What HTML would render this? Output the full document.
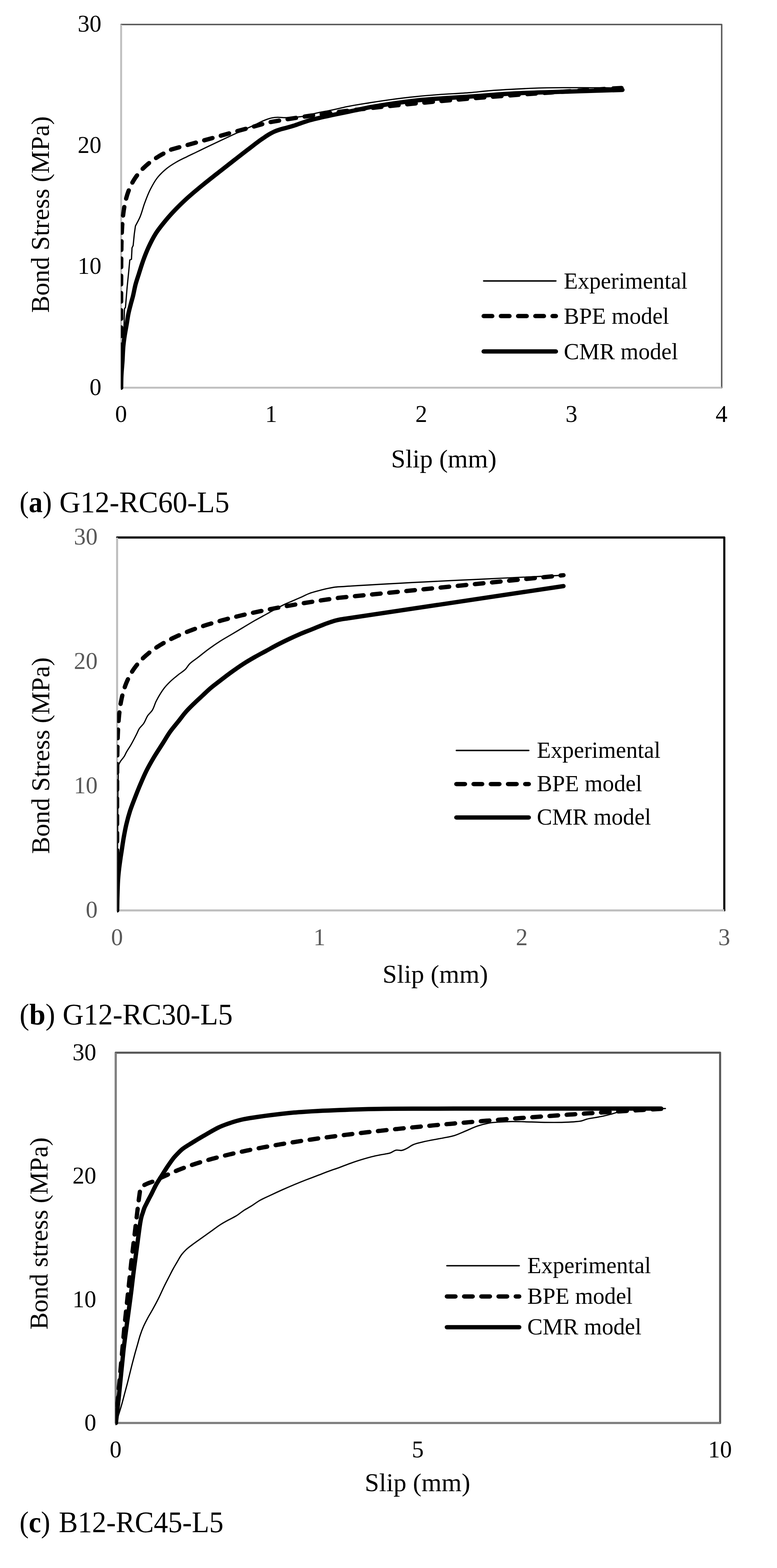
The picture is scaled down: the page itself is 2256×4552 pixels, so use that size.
<!DOCTYPE html>
<html lang="en"><head><meta charset="utf-8"><title>Bond stress-slip curves</title>
<style>
html,body{margin:0;padding:0;background:#fff;}
body{width:2256px;height:4552px;overflow:hidden;}
svg{display:block;}
text{font-family:"Liberation Serif",serif;}
.tk{font-size:69px;}
.ti{font-size:75px;}
.lg{font-size:66.67px;}
.cap{font-size:87px;}
.c{fill:none;stroke:#000;stroke-linecap:round;stroke-linejoin:round;}
</style></head><body>
<svg width="2256" height="4552" viewBox="0 0 2256 4552" role="img" aria-label="Bond stress versus slip: experimental curve compared with BPE and CMR models for three specimens">
<rect width="2256" height="4552" fill="#fff"/>
<g id="chart1">
<path d="M351.7 71.2 H2095.4 V1125.5" fill="none" stroke="#595959" stroke-width="4.2" stroke-linejoin="round" stroke-linecap="round"/>
<path d="M351.7 71.6 V1125.5 H2095.4" fill="none" stroke="#bfbfbf" stroke-width="5.5" stroke-linejoin="miter"/>
<svg x="351" y="60" width="1759" height="1080" viewBox="351 60 1759 1080" overflow="hidden">
<path class="c" d="M351.7 1125.5 L354 1060 L357 1000 L359.4 970 L361.4 896.3 L364.3 892.4 L369.1 834.2 L374 785.6 L376.9 754.6 L381.7 752.6 L383.3 719.5 L386.6 712.9 L389.9 679.6 L393.2 656.3 C397.7 647.4 402.7 638.8 406.6 629.7 C412.1 616.8 415 602.9 419.9 589.8 C424.9 576.3 429.9 562.7 436.5 549.8 C442.4 538.3 448.5 526.7 456.5 516.5 C464.2 506.6 473.4 497.8 483.1 489.9 C492.4 482.3 502.6 476 513 470 C522.7 464.4 532.9 459.8 543 454.8 C551.8 450.4 560.7 446.3 569.6 442 C576.4 438.7 583.1 435.5 589.9 432.2 C606.5 424.2 623.1 416.3 639.8 408.4 C656.4 400.6 673.1 392.8 689.8 385.1 C706.4 377.5 723.1 370.1 739.7 362.5 C750.8 357.4 761.5 351.2 773 347.2 C778.5 345.3 783.9 343.3 789.6 342.2 C795.1 341.1 800.6 340.6 806.2 340.5 C811.8 340.4 817.3 341.3 822.9 341.5 C839.5 342 856.3 341.1 872.8 338.8 C889.7 336.5 906 331 922.7 327.5 C936.8 324.5 950.9 322.2 965 319.2 C978.9 316.3 992.7 312.7 1006.6 309.8 C1028.6 305.3 1050.9 302 1073.1 298.4 C1095.3 294.9 1117.5 291.5 1139.7 288.5 C1161.8 285.5 1184 282.9 1206.2 280.6 C1228.4 278.3 1250.6 276.4 1272.8 274.7 C1303.5 272.3 1334.3 271.5 1365 268.9 C1382.8 267.4 1400.5 265.1 1418.3 263.6 C1444.4 261.4 1470.5 260 1496.6 258.6 C1522.7 257.2 1548.8 255.9 1574.9 255.2 C1601 254.5 1627.1 254.6 1653.2 254.5 C1679.3 254.4 1705.4 254.3 1731.5 254.7 C1751 255 1770.6 254.1 1790 256 C1795.7 256.5 1801.3 257.3 1807 258" stroke-width="3.6"/>
<path class="c" d="M351.7 1125.5 L351.7 1123.3 L351.7 1121.1 L351.7 1119 L351.7 1116.8 L351.7 1114.6 L351.7 1112.4 L351.7 1110.3 L351.7 1108.1 L351.7 1105.9 L351.7 1103.7 L351.7 1101.6 L351.7 1099.4 L351.7 1097.2 L351.7 1095 L351.7 1092.9 L351.7 1090.7 L351.7 1088.5 L351.7 1086.3 L351.7 1084.2 L351.7 1082 L351.7 1079.8 L351.7 1077.6 L351.7 1075.5 L351.7 1073.3 L351.7 1071.1 L351.7 1068.9 L351.7 1066.8 L351.7 1064.6 L351.7 1062.4 L351.7 1060.2 L351.7 1058.1 L351.7 1055.9 L351.7 1053.7 L351.7 1051.5 L351.7 1049.4 L351.7 1047.2 L351.7 1045 L351.7 1042.8 L351.7 1040.7 L351.7 1038.5 L351.7 1036.3 L351.7 1034.1 L351.7 1032 L351.7 1029.8 L351.7 1027.6 L351.7 1025.4 L351.7 1023.3 L351.7 1021.1 L351.7 1018.9 L351.7 1016.7 L351.7 1014.6 L351.7 1012.4 L351.7 1010.2 L351.7 1008 L351.7 1005.9 L351.7 1003.7 L351.7 1001.5 L351.7 999.3 L351.7 997.2 L351.7 995 L351.7 992.8 L351.7 990.6 L351.7 988.5 L351.7 986.3 L351.7 984.1 L351.7 981.9 L351.7 979.8 L351.7 977.6 L351.7 975.4 L351.7 973.2 L351.7 971 L351.7 968.9 L351.7 966.7 L351.7 964.5 L351.7 962.3 L351.7 960.2 L351.7 958 L351.7 955.8 L351.7 953.6 L351.7 951.5 L351.7 949.3 L351.7 947.1 L351.7 944.9 L351.7 942.8 L351.7 940.6 L351.7 938.4 L351.7 936.2 L351.7 934.1 L351.7 931.9 L351.7 929.7 L351.7 927.5 L351.7 925.4 L351.7 923.2 L351.7 921 L351.7 918.8 L351.7 916.7 L351.7 914.5 L351.7 912.3 L351.7 910.1 L351.7 908 L351.7 905.8 L351.7 903.6 L351.7 901.4 L351.7 899.3 L351.7 897.1 L351.7 894.9 L351.7 892.7 L351.7 890.6 L351.7 888.4 L351.7 886.2 L351.7 884 L351.7 881.9 L351.7 879.7 L351.7 877.5 L351.7 875.3 L351.7 873.2 L351.7 871 L351.7 868.8 L351.7 866.6 L351.7 864.5 L351.7 862.3 L351.7 860.1 L351.7 857.9 L351.7 855.8 L351.7 853.6 L351.7 851.4 L351.7 849.2 L351.7 847.1 L351.7 844.9 L351.7 842.7 L351.7 840.5 L351.7 838.4 L351.7 836.2 L351.7 834 L351.7 831.8 L351.7 829.6 L351.7 827.5 L351.7 825.3 L351.7 823.1 L351.7 820.9 L351.7 818.8 L351.7 816.6 L351.7 814.4 L351.8 812.2 L351.8 810.1 L351.8 807.9 L351.8 805.7 L351.8 803.5 L351.8 801.4 L351.8 799.2 L351.8 797 L351.8 794.8 L351.8 792.7 L351.8 790.5 L351.8 788.3 L351.8 786.1 L351.8 784 L351.8 781.8 L351.8 779.6 L351.9 777.4 L351.9 775.3 L351.9 773.1 L351.9 770.9 L351.9 768.7 L351.9 766.6 L351.9 764.4 L351.9 762.2 L351.9 760 L352 757.9 L352 755.7 L352 753.5 L352 751.3 L352 749.2 L352.1 747 L352.1 744.8 L352.1 742.6 L352.1 740.5 L352.1 738.3 L352.2 736.1 L352.2 733.9 L352.2 731.8 L352.3 729.6 L352.3 727.4 L352.3 725.2 L352.4 723.1 L352.4 720.9 L352.4 718.7 L352.5 716.5 L352.5 714.4 L352.5 712.2 L352.6 710 L352.6 707.8 L352.7 705.7 L352.7 703.5 L352.8 701.3 L352.9 699.1 L352.9 697 L353 694.8 L353 692.6 L353.1 690.4 L353.2 688.3 L353.3 686.1 L353.3 683.9 L353.4 681.7 L353.5 679.5 L353.6 677.4 L353.7 675.2 L353.8 673 L353.9 670.8 L354 668.7 L354.1 666.5 L354.2 664.3 L354.4 662.1 L354.5 660 L354.6 657.8 L354.8 655.6 L354.9 653.4 L355.1 651.3 L355.2 649.1 L355.4 646.9 L355.6 644.7 L355.7 642.6 L355.9 640.4 L356.1 638.2 L356.3 636 L356.5 633.9 L356.7 631.7 L357 629.5 L357.2 627.3 L357.4 625.2 L357.7 623 L358 620.8 L358.2 618.6 L358.5 616.5 L358.8 614.3 L359.1 612.1 L359.4 609.9 L359.8 607.8 L360.1 605.6 L360.5 603.4 L360.9 601.2 L361.2 599.1 L361.6 596.9 L362.1 594.7 L362.5 592.5 L362.9 590.4 L363.4 588.2 L363.9 586 L364.4 583.8 L364.9 581.7 L365.5 579.5 L366 577.3 L366.6 575.1 L367.2 573 L367.8 570.8 L368.5 568.6 L369.1 566.4 L369.8 564.3 L370.5 562.1 L371.3 559.9 L372 557.7 L372.8 555.6 L373.6 553.4 L374.5 551.2 L375.4 549 L376.3 546.9 L377.2 544.7 L378.2 542.5 L379.2 540.3 L380.2 538.1 L381.3 536 L382.4 533.8 L383.6 531.6 L384.7 529.4 L386 527.3 L387.2 525.1 L388.6 522.9 L389.9 520.7 L391.3 518.6 L392.7 516.4 L394.2 514.2 L395.8 512 L397.4 509.9 L399 507.7 L400.7 505.5 L402.4 503.3 L404.2 501.2 L406.1 499 L408 496.8 L410 494.6 L412 492.5 L414.1 490.3 L416.3 488.1 L418.6 485.9 L420.9 483.8 L423.2 481.6 L425.7 479.4 L428.2 477.2 L430.8 475.1 L433.5 472.9 L436.3 470.7 L439.1 468.5 L442.1 466.4 L445.1 464.2 L448.2 462 L451.4 459.8 L454.7 457.7 L458.2 455.5 L461.7 453.3 L465.3 451.1 L469 449 L472.8 446.8 L476.8 444.6 L480.8 442.4 L485 440.3 L489.3 438.1 L493.7 435.9 L498.2 433.7 L779.9 355.4 L792.2 353.2 L804.8 351.1 L817.6 348.9 L830.9 346.7 L844.4 344.5 L858.3 342.4 L872.6 340.2 L887.2 338 L902.1 335.8 L917.5 333.7 L933.2 331.5 L949.4 329.3 L965.9 327.1 L982.8 325 L1000.2 322.8 L1018 320.6 L1036.2 318.4 L1054.9 316.3 L1074 314.1 L1093.6 311.9 L1113.7 309.7 L1134.3 307.6 L1155.3 305.4 L1176.9 303.2 L1199 301 L1221.6 298.9 L1244.8 296.7 L1268.5 294.5 L1292.8 292.3 L1317.7 290.2 L1343.1 288 L1369.2 285.8 L1395.8 283.6 L1423.1 281.5 L1451.1 279.3 L1479.7 277.1 L1508.9 274.9 L1538.9 272.8 L1569.5 270.6 L1600.8 268.4 L1632.9 266.2 L1665.7 264.1 L1699.3 261.9 L1733.6 259.7 L1768.7 257.5 L1804.6 255.4" stroke-width="12.5" stroke-dasharray="25 25"/>
<path class="c" d="M351.7 1125.5 C352 1113.7 351.9 1101.8 352.5 1090 C353.1 1077.1 354.5 1064.3 355.4 1051.4 C356.6 1034.3 356.7 1017.1 358.6 1000 C359.3 993.7 360.1 987.3 361 981 C362.9 967.3 365.7 953.7 368 940 C369.7 930.2 370.9 920.3 372.9 910.5 C375 900.2 377.8 890.1 380.5 880 C382.1 874 383.9 868 385.5 862 C388.7 849.6 390.5 836.9 393.9 824.5 C396.6 814.7 400 805 403.1 795.3 C407.2 782.3 411.1 769.3 415.7 756.5 C420.4 743.4 425.5 730.4 431.3 717.7 C437.4 704.4 443.9 691.2 451.7 678.8 C460 665.6 469.9 653.5 479.8 641.5 C490.3 628.7 501.5 616.5 513 604.7 C521.7 595.7 530.8 587 540 578.5 C556 563.7 573 549.9 589.9 536 C606.4 522.5 623.2 509.5 640 496.3 C653.5 485.7 667.1 475.1 680.7 464.5 C694.2 454 707.7 443.4 721.4 433 C734.9 422.7 748.2 412.1 762.2 402.5 C768.9 398 775.5 393.3 782.5 389.3 C787.8 386.3 793.2 383.4 798.8 381 C803.4 379.1 808.2 377.5 813 376 C819.7 373.9 826.6 372.4 833.4 370.5 C839.5 368.8 845.6 367.2 851.7 365.3 C859.2 362.9 866.6 360 874.1 357.5 C882.7 354.6 891.3 351.5 900 349 C910.8 345.9 921.8 343.5 932.7 341 C943.4 338.5 954.2 336.3 965 334 C986.6 329.4 1008.3 325.1 1030 320.5 C1044.4 317.5 1058.7 314 1073.1 311.3 C1083.7 309.3 1094.4 307.7 1105 306 C1138.6 300.6 1172.4 295.8 1206.2 292 C1258.9 286 1312.1 284.1 1365 280.3 C1408.9 277.2 1452.7 273.4 1496.6 271.1 C1548.8 268.3 1601 267.5 1653.2 265.8 C1704.6 264.1 1755.9 262.6 1807.3 261" stroke-width="12.5"/>
</svg>
<text class="tk" x="294.5" y="1146.5" text-anchor="end" fill="#000">0</text>
<text class="tk" x="294.5" y="795.1" text-anchor="end" fill="#000">10</text>
<text class="tk" x="294.5" y="443.6" text-anchor="end" fill="#000">20</text>
<text class="tk" x="294.5" y="92.2" text-anchor="end" fill="#000">30</text>
<text class="tk" x="351.4" y="1225" text-anchor="middle" fill="#000">0</text>
<text class="tk" x="787.3" y="1225" text-anchor="middle" fill="#000">1</text>
<text class="tk" x="1223.2" y="1225" text-anchor="middle" fill="#000">2</text>
<text class="tk" x="1659.2" y="1225" text-anchor="middle" fill="#000">3</text>
<text class="tk" x="2095.1" y="1225" text-anchor="middle" fill="#000">4</text>
<text class="ti" x="1135.5" y="1357">Slip (mm)</text>
<text class="ti" transform="translate(142 908.3) rotate(-90)">Bond Stress (MPa)</text>
<path class="c" d="M1404.3 815.6 H1614" stroke-width="4.2"/>
<text class="lg" x="1637" y="837.7">Experimental</text>
<path class="c" d="M1404.3 917.6 H1614" stroke-width="12.5" stroke-dasharray="25 25"/>
<text class="lg" x="1637" y="940">BPE model</text>
<path class="c" d="M1404.3 1020.3 H1614" stroke-width="12.5"/>
<text class="lg" x="1637" y="1042.5">CMR model</text>
<text class="cap" x="56.7" y="1487.2" textLength="93.9" lengthAdjust="spacingAndGlyphs">(<tspan font-weight="bold">a</tspan>)</text>
<text class="cap" x="172.4" y="1487.2" textLength="493.6" lengthAdjust="spacingAndGlyphs">G12-RC60-L5</text>
</g>
<g id="chart2">
<path d="M340 1560.4 H2103 V2643" fill="none" stroke="#000" stroke-width="6.1" stroke-linejoin="round" stroke-linecap="round"/>
<path d="M340 1560.8 V2643 H2103" fill="none" stroke="#bfbfbf" stroke-width="5.9" stroke-linejoin="miter"/>
<svg x="340" y="1550" width="1780" height="1110" viewBox="340 1550 1780 1110" overflow="hidden">
<path class="c" d="M340 2643 C340.3 2595.3 340.7 2547.7 341 2500 C341.3 2450 341.5 2400 342 2350 C342.3 2318.3 342.1 2286.6 343.3 2255 C343.8 2243.1 340.5 2230.4 345 2219.4 C345.9 2217.1 347.1 2214.9 348.3 2212.7 C351.9 2206.1 357.9 2201 361.6 2194.4 C363.4 2191.2 364.8 2187.7 366.6 2184.4 C370.6 2176.9 375.7 2170.1 379.9 2162.8 C385.9 2152.5 391.2 2141.8 396.6 2131.2 C399.4 2125.7 401.4 2119.7 404.9 2114.5 C408.2 2109.6 413 2106 416.5 2101.2 C422 2093.6 424.3 2083.9 429.8 2076.3 C433.3 2071.5 438.1 2067.8 441.5 2062.9 C447 2054.9 448.8 2045 453.1 2036.3 C456.2 2030.1 459.5 2024 463.1 2018 C467.2 2011.2 471.5 2004.4 476.4 1998.1 C481.5 1991.6 487.2 1985.6 493.1 1979.8 C500.4 1972.6 508.5 1966.3 516.4 1959.8 C524 1953.5 533.1 1948.8 539.7 1941.5 C543.4 1937.4 545.9 1932.3 549.6 1928.2 C556.3 1920.8 565.4 1915.9 573.3 1909.7 C584.4 1901.1 595.2 1892.1 606.6 1883.8 C617.4 1875.9 628.5 1868.2 639.8 1861 C650.7 1854.1 662 1847.9 673.1 1841.3 C684.2 1834.7 695.3 1828 706.4 1821.4 C717.5 1814.8 728.5 1807.9 739.7 1801.5 C750.7 1795.2 761.9 1789.4 772.9 1783.3 C784 1777.2 795 1770.7 806.2 1764.8 C813.9 1760.7 821.6 1756.6 829.5 1753 C836.1 1750 842.8 1747.4 849.5 1744.5 C857.3 1741.1 865 1737.7 872.8 1734.3 C881.7 1730.4 890.3 1725.7 899.4 1722.4 C907 1719.6 914.9 1717.6 922.7 1715.5 C930.4 1713.4 938.2 1711.4 946 1709.6 C955 1707.6 964.1 1705.6 973.3 1704.4 C982.1 1703.3 991.1 1703.2 1000 1702.6 C1211.8 1688.5 1424 1680.8 1636 1669.9" stroke-width="3.6"/>
<path class="c" d="M340 2643 L340 2640.6 L340 2638.1 L340 2635.7 L340 2633.3 L340 2630.8 L340 2628.4 L340 2626 L340 2623.5 L340 2621.1 L340 2618.7 L340 2616.2 L340 2613.8 L340 2611.4 L340 2608.9 L340 2606.5 L340 2604.1 L340 2601.6 L340 2599.2 L340 2596.8 L340 2594.3 L340 2591.9 L340 2589.5 L340 2587 L340 2584.6 L340 2582.2 L340 2579.7 L340 2577.3 L340 2574.9 L340 2572.4 L340 2570 L340 2567.6 L340 2565.1 L340 2562.7 L340 2560.3 L340 2557.8 L340 2555.4 L340 2553 L340 2550.5 L340 2548.1 L340 2545.7 L340 2543.2 L340 2540.8 L340 2538.4 L340 2535.9 L340 2533.5 L340 2531.1 L340 2528.6 L340 2526.2 L340 2523.8 L340 2521.3 L340 2518.9 L340 2516.5 L340 2514 L340 2511.6 L340 2509.2 L340 2506.7 L340 2504.3 L340 2501.9 L340 2499.4 L340 2497 L340 2494.6 L340 2492.1 L340 2489.7 L340 2487.3 L340 2484.8 L340 2482.4 L340 2480 L340 2477.5 L340 2475.1 L340 2472.7 L340 2470.2 L340 2467.8 L340 2465.4 L340 2462.9 L340 2460.5 L340 2458.1 L340 2455.6 L340 2453.2 L340 2450.8 L340 2448.3 L340 2445.9 L340 2443.5 L340 2441 L340 2438.6 L340 2436.2 L340 2433.7 L340 2431.3 L340 2428.9 L340 2426.5 L340 2424 L340 2421.6 L340 2419.2 L340 2416.7 L340 2414.3 L340 2411.9 L340 2409.4 L340 2407 L340 2404.6 L340 2402.1 L340 2399.7 L340 2397.3 L340 2394.8 L340 2392.4 L340 2390 L340 2387.5 L340 2385.1 L340 2382.7 L340 2380.2 L340 2377.8 L340 2375.4 L340 2372.9 L340 2370.5 L340 2368.1 L340 2365.6 L340 2363.2 L340 2360.8 L340 2358.3 L340 2355.9 L340 2353.5 L340 2351 L340 2348.6 L340 2346.2 L340 2343.7 L340 2341.3 L340 2338.9 L340 2336.4 L340 2334 L340 2331.6 L340 2329.1 L340 2326.7 L340 2324.3 L340 2321.8 L340 2319.4 L340 2317 L340 2314.5 L340 2312.1 L340 2309.7 L340 2307.2 L340 2304.8 L340 2302.4 L340 2299.9 L340 2297.5 L340 2295.1 L340 2292.6 L340.1 2290.2 L340.1 2287.8 L340.1 2285.3 L340.1 2282.9 L340.1 2280.5 L340.1 2278 L340.1 2275.6 L340.1 2273.2 L340.1 2270.7 L340.1 2268.3 L340.1 2265.9 L340.1 2263.4 L340.1 2261 L340.1 2258.6 L340.1 2256.1 L340.1 2253.7 L340.1 2251.3 L340.2 2248.8 L340.2 2246.4 L340.2 2244 L340.2 2241.5 L340.2 2239.1 L340.2 2236.7 L340.2 2234.2 L340.2 2231.8 L340.2 2229.4 L340.3 2226.9 L340.3 2224.5 L340.3 2222.1 L340.3 2219.6 L340.3 2217.2 L340.4 2214.8 L340.4 2212.3 L340.4 2209.9 L340.4 2207.5 L340.4 2205 L340.5 2202.6 L340.5 2200.2 L340.5 2197.7 L340.5 2195.3 L340.6 2192.9 L340.6 2190.4 L340.6 2188 L340.7 2185.6 L340.7 2183.1 L340.8 2180.7 L340.8 2178.3 L340.8 2175.8 L340.9 2173.4 L340.9 2171 L341 2168.5 L341 2166.1 L341.1 2163.7 L341.1 2161.2 L341.2 2158.8 L341.3 2156.4 L341.3 2153.9 L341.4 2151.5 L341.5 2149.1 L341.5 2146.6 L341.6 2144.2 L341.7 2141.8 L341.8 2139.3 L341.9 2136.9 L342 2134.5 L342.1 2132 L342.2 2129.6 L342.3 2127.2 L342.4 2124.7 L342.5 2122.3 L342.6 2119.9 L342.7 2117.4 L342.9 2115 L343 2112.6 L343.1 2110.1 L343.3 2107.7 L343.4 2105.3 L343.6 2102.8 L343.8 2100.4 L343.9 2098 L344.1 2095.5 L344.3 2093.1 L344.5 2090.7 L344.7 2088.2 L344.9 2085.8 L345.1 2083.4 L345.3 2080.9 L345.6 2078.5 L345.8 2076.1 L346.1 2073.6 L346.3 2071.2 L346.6 2068.8 L346.9 2066.3 L347.2 2063.9 L347.5 2061.5 L347.8 2059 L348.2 2056.6 L348.5 2054.2 L348.9 2051.7 L349.2 2049.3 L349.6 2046.9 L350 2044.4 L350.4 2042 L350.9 2039.6 L351.3 2037.1 L351.8 2034.7 L352.3 2032.3 L352.8 2029.8 L353.3 2027.4 L353.8 2025 L354.4 2022.5 L354.9 2020.1 L355.5 2017.7 L356.1 2015.2 L356.8 2012.8 L357.4 2010.4 L358.1 2007.9 L358.8 2005.5 L359.6 2003.1 L360.3 2000.7 L361.1 1998.2 L361.9 1995.8 L362.8 1993.4 L363.6 1990.9 L364.5 1988.5 L365.4 1986.1 L366.4 1983.6 L367.4 1981.2 L368.4 1978.8 L369.5 1976.3 L370.6 1973.9 L371.7 1971.5 L372.9 1969 L374.1 1966.6 L375.3 1964.2 L376.6 1961.7 L377.9 1959.3 L379.3 1956.9 L380.7 1954.4 L382.2 1952 L383.7 1949.6 L385.2 1947.1 L386.9 1944.7 L388.5 1942.3 L390.2 1939.8 L392 1937.4 L393.8 1935 L395.7 1932.5 L397.6 1930.1 L399.6 1927.7 L401.7 1925.2 L403.8 1922.8 L406 1920.4 L408.2 1917.9 L410.6 1915.5 L413 1913.1 L415.4 1910.6 L418 1908.2 L420.6 1905.8 L423.3 1903.3 L426.1 1900.9 L429 1898.5 L431.9 1896 L434.9 1893.6 L438.1 1891.2 L441.3 1888.7 L444.6 1886.3 L448 1883.9 L451.5 1881.4 L455.1 1879 L458.9 1876.6 L462.7 1874.1 L466.6 1871.7 L470.7 1869.3 L474.8 1866.8 L479.1 1864.4 L483.5 1862 L488.1 1859.5 L492.7 1857.1 L497.5 1854.7 L502.5 1852.2 L507.5 1849.8 L512.7 1847.4 L518.1 1844.9 L523.6 1842.5 L529.3 1840.1 L535.1 1837.6 L541.1 1835.2 L547.2 1832.8 L553.5 1830.3 L560 1827.9 L566.6 1825.5 L573.5 1823 L580.5 1820.6 L587.7 1818.2 L595.1 1815.7 L602.7 1813.3 L610.5 1810.9 L618.5 1808.4 L626.8 1806 L635.2 1803.6 L643.9 1801.1 L652.8 1798.7 L661.9 1796.3 L671.3 1793.8 L680.9 1791.4 L690.8 1789 L700.9 1786.5 L711.3 1784.1 L721.9 1781.7 L732.8 1779.2 L744.1 1776.8 L755.5 1774.4 L767.3 1771.9 L779.4 1769.5 L791.8 1767.1 L804.5 1764.6 L817.6 1762.2 L830.9 1759.8 L844.6 1757.3 L858.6 1754.9 L873 1752.5 L887.8 1750 L902.9 1747.6 L918.4 1745.2 L934.2 1742.7 L950.5 1740.3 L967.1 1737.9 L984.2 1735.4 L1636 1669.9" stroke-width="12.5" stroke-dasharray="25 25"/>
<path class="c" d="M340 2643 C340.3 2628.7 340.5 2614.3 341 2600 C341.6 2582.7 341.8 2565.3 343.2 2548 C343.9 2538.6 344.9 2529.3 346 2520 C347.2 2510.2 348.6 2500.5 350 2490.8 C351 2483.7 352.2 2476.7 353.3 2469.6 C355.2 2457.1 356.9 2444.6 359.1 2432.2 C361.4 2419.1 363.8 2406 366.9 2393 C370 2379.9 373.5 2367 377.6 2354.2 C381.9 2341 387.1 2328.2 392.1 2315.3 C397.1 2302.3 402.2 2289.3 407.7 2276.5 C413.2 2263.5 418.8 2250.4 425.1 2237.7 C431.7 2224.5 439 2211.8 446.5 2199.1 C454.5 2185.6 463.3 2172.6 471.7 2159.4 C479.3 2147.5 486.2 2135.2 494.4 2123.7 C501.7 2113.5 510.1 2104 517.9 2094.2 C525.7 2084.4 533 2074.1 541.4 2064.7 C548.8 2056.4 556.9 2048.7 564.9 2040.9 C572.6 2033.4 580.5 2026.3 588.4 2019 C596.2 2011.7 603.8 2004.2 611.9 1997.3 C620.9 1989.6 630.4 1982.7 639.8 1975.5 C650.8 1967 661.8 1958.5 673.1 1950.4 C684 1942.5 695 1934.7 706.4 1927.4 C717.3 1920.4 728.5 1913.9 739.7 1907.5 C750.6 1901.3 761.8 1895.4 772.9 1889.4 C784 1883.4 795 1877.2 806.2 1871.4 C817.2 1865.7 828.3 1860.3 839.5 1855 C850.5 1849.8 861.6 1844.8 872.8 1840 C883.8 1835.3 895 1831.2 906.1 1826.7 C917.2 1822.3 928.1 1817.5 939.3 1813.3 C946.2 1810.7 953 1808.2 960 1805.9 C965 1804.3 969.9 1802.5 975 1801.2 C979.9 1799.9 984.9 1798.9 989.9 1798 C996.6 1796.8 1003.3 1796 1010 1795 C1218.7 1763.9 1427.3 1732.7 1636 1701.5" stroke-width="12.5"/>
</svg>
<text class="tk" x="283.5" y="2664" text-anchor="end" fill="#595959">0</text>
<text class="tk" x="283.5" y="2303.1" text-anchor="end" fill="#595959">10</text>
<text class="tk" x="283.5" y="1942.3" text-anchor="end" fill="#595959">20</text>
<text class="tk" x="283.5" y="1581.4" text-anchor="end" fill="#595959">30</text>
<text class="tk" x="339.7" y="2743.6" text-anchor="middle" fill="#595959">0</text>
<text class="tk" x="927.4" y="2743.6" text-anchor="middle" fill="#595959">1</text>
<text class="tk" x="1515" y="2743.6" text-anchor="middle" fill="#595959">2</text>
<text class="tk" x="2102.7" y="2743.6" text-anchor="middle" fill="#595959">3</text>
<text class="ti" x="1110.7" y="2852.7">Slip (mm)</text>
<text class="ti" transform="translate(143.2 2479) rotate(-90)">Bond Stress (MPa)</text>
<path class="c" d="M1325 2178.7 H1535.3" stroke-width="4.2"/>
<text class="lg" x="1558.8" y="2199.7">Experimental</text>
<path class="c" d="M1325 2276.2 H1535.3" stroke-width="12.5" stroke-dasharray="25 25"/>
<text class="lg" x="1558.8" y="2297.2">BPE model</text>
<path class="c" d="M1325 2373.2 H1535.3" stroke-width="12.5"/>
<text class="lg" x="1558.8" y="2394.2">CMR model</text>
<text class="cap" x="56.7" y="2973.8" textLength="103.5" lengthAdjust="spacingAndGlyphs">(<tspan font-weight="bold">b</tspan>)</text>
<text class="cap" x="181.7" y="2973.8" textLength="493.9" lengthAdjust="spacingAndGlyphs">G12-RC30-L5</text>
</g>
<g id="chart3">
<rect x="336" y="3056" width="1754.8" height="1075" fill="none" stroke="#595959" stroke-width="6.0" stroke-linejoin="round"/>
<path d="M336 3056.4 V4131 H2090.8" fill="none" stroke="#8c8c8c" stroke-width="3.6" stroke-linejoin="miter"/>
<svg x="335" y="3040" width="1775" height="1110" viewBox="335 3040 1775 1110" overflow="hidden">
<path class="c" d="M336.5 4131 C339.9 4120.7 343.4 4110.4 346.6 4100 C349.2 4091.5 351.8 4083 354.2 4074.4 C356.9 4064.9 359.3 4055.4 361.8 4045.9 C364.3 4036.4 366.9 4026.9 369.4 4017.4 C372 4007.3 374.5 3997.1 377 3987 C379.5 3976.9 382 3966.7 384.6 3956.6 C387.1 3947.1 389.6 3937.6 392.2 3928.1 C394.7 3919.2 397.2 3910.3 399.8 3901.4 C402.3 3892.5 404.5 3883.5 407.5 3874.8 C410.3 3866.4 413.4 3858.2 417 3850.1 C420.4 3842.3 424.4 3834.8 428.4 3827.3 C433.2 3818.3 438.7 3809.6 443.6 3800.7 C449.5 3790 455.3 3779.3 460.7 3768.4 C466 3757.7 470.7 3746.7 475.9 3736 C480.8 3725.9 486 3716 491.1 3706 C494.9 3698.7 498.5 3691.2 502.5 3684 C506.1 3677.4 510 3671 513.8 3664.5 C518.4 3656.8 522.4 3648.6 527.9 3641.5 C531.5 3636.9 535.5 3632.6 539.7 3628.5 C545.8 3622.6 552.8 3617.7 559.6 3612.5 C568.3 3605.9 577.3 3599.8 586.2 3593.5 C595.1 3587.2 603.9 3580.8 612.8 3574.5 C621.7 3568.2 630.3 3561.4 639.5 3555.5 C648.1 3550 657.1 3545.2 666.1 3540.3 C672.7 3536.7 679.6 3533.6 686 3529.7 C694.2 3524.7 701.3 3518.2 709.4 3513 C715.9 3508.9 722.8 3505.4 729.3 3501.4 C737.5 3496.4 745 3490.3 753.3 3485.5 C764 3479.3 775.4 3474.6 786.6 3469.3 C797.6 3464.1 808.7 3459 819.8 3454 C830.8 3449.1 841.9 3444.3 853.1 3439.6 C864.1 3435 875.2 3430.5 886.4 3426.1 C897.5 3421.8 908.6 3417.7 919.7 3413.5 C930.8 3409.3 941.8 3404.9 952.9 3400.8 C964 3396.7 975.1 3393 986.2 3388.9 C997.3 3384.8 1008.3 3380.3 1019.5 3376.4 C1030.5 3372.5 1041.6 3368.8 1052.8 3365.5 C1063.8 3362.2 1074.9 3359.1 1086.1 3356.5 C1091.6 3355.2 1097.2 3354.1 1102.7 3353 C1108.2 3351.9 1113.8 3351.1 1119.3 3350 C1124 3349.1 1128.8 3348.4 1133.3 3346.9 C1139.1 3345 1143.9 3340.2 1149.9 3339 C1155.4 3337.9 1161.1 3340.6 1166.6 3339.6 C1171.3 3338.8 1175.6 3336.5 1179.9 3334.6 C1186.9 3331.4 1192.8 3326 1199.9 3323 C1206.3 3320.3 1213.1 3318.8 1219.8 3317 C1230.8 3314 1242 3311.9 1253.1 3309.7 C1264.2 3307.5 1275.3 3305.9 1286.4 3303.7 C1297.5 3301.5 1308.8 3299.7 1319.7 3296.4 C1331.1 3292.9 1341.9 3287.5 1352.9 3283 C1364 3278.4 1374.8 3272.9 1386.2 3269.1 C1397.1 3265.4 1408.2 3262.4 1419.5 3260.4 C1430.5 3258.4 1441.7 3257.9 1452.8 3257.1 C1463.9 3256.3 1475 3255.9 1486.1 3255.8 C1497.2 3255.7 1508.2 3256.1 1519.3 3256.4 C1536.2 3256.8 1553 3257.8 1569.9 3258.1 C1592.1 3258.5 1614.3 3258.9 1636.5 3258.1 C1647.6 3257.7 1658.7 3257.5 1669.8 3256.4 C1676.5 3255.7 1683.2 3255.5 1689.7 3253.8 C1694.3 3252.6 1698.5 3250.4 1703 3249.1 C1710.6 3246.9 1718.5 3246.2 1726.3 3244.8 C1735.2 3243.1 1744.1 3241.8 1752.9 3239.8 C1759.6 3238.3 1766.3 3236.6 1772.9 3234.8 C1778.5 3233.3 1784.1 3231.7 1789.6 3229.8 C1794.1 3228.3 1798.4 3226.2 1802.9 3224.8 C1811.7 3222.1 1820.9 3221.3 1830 3220 C1863.7 3215.2 1898 3218.8 1932 3218.2" stroke-width="3.7"/>
<path class="c" d="M336 4131 L361.4 3850 L380.8 3668 L402 3490 L406.5 3457 L408.5 3449.5 L412.5 3444.3 L420 3439.6 L432 3434.3 L447 3429 L465 3420 L490 3408.7 L491 3408.2 L492 3407.7 L493.1 3407.2 L494.1 3406.8 L495.1 3406.3 L496.2 3405.8 L497.2 3405.4 L498.3 3404.9 L499.3 3404.4 L500.4 3403.9 L501.5 3403.5 L502.6 3403 L503.7 3402.5 L504.7 3402 L505.9 3401.6 L507 3401.1 L508.1 3400.6 L509.2 3400.1 L510.3 3399.7 L511.5 3399.2 L512.6 3398.7 L513.7 3398.2 L514.9 3397.8 L516.1 3397.3 L517.2 3396.8 L518.4 3396.3 L519.6 3395.9 L520.8 3395.4 L522 3394.9 L523.2 3394.4 L524.4 3394 L525.6 3393.5 L526.8 3393 L528 3392.6 L529.3 3392.1 L530.5 3391.6 L531.8 3391.1 L533 3390.7 L534.3 3390.2 L535.6 3389.7 L536.8 3389.2 L538.1 3388.8 L539.4 3388.3 L540.7 3387.8 L542 3387.3 L543.3 3386.9 L544.7 3386.4 L546 3385.9 L547.3 3385.4 L548.7 3385 L550 3384.5 L551.4 3384 L552.8 3383.5 L554.2 3383.1 L555.5 3382.6 L556.9 3382.1 L558.3 3381.6 L559.8 3381.2 L561.2 3380.7 L562.6 3380.2 L564 3379.8 L565.5 3379.3 L566.9 3378.8 L568.4 3378.3 L569.9 3377.9 L571.3 3377.4 L572.8 3376.9 L574.3 3376.4 L575.8 3376 L577.3 3375.5 L578.8 3375 L580.4 3374.5 L581.9 3374.1 L583.4 3373.6 L585 3373.1 L586.6 3372.6 L588.1 3372.2 L589.7 3371.7 L591.3 3371.2 L592.9 3370.7 L594.5 3370.3 L596.1 3369.8 L597.7 3369.3 L599.4 3368.8 L601 3368.4 L602.7 3367.9 L604.3 3367.4 L606 3367 L607.7 3366.5 L609.4 3366 L611.1 3365.5 L612.8 3365.1 L614.5 3364.6 L616.2 3364.1 L618 3363.6 L619.7 3363.2 L621.5 3362.7 L623.2 3362.2 L625 3361.7 L626.8 3361.3 L628.6 3360.8 L630.4 3360.3 L632.2 3359.8 L634 3359.4 L635.9 3358.9 L637.7 3358.4 L639.6 3357.9 L641.4 3357.5 L643.3 3357 L645.2 3356.5 L647.1 3356 L649 3355.6 L650.9 3355.1 L652.9 3354.6 L654.8 3354.2 L656.8 3353.7 L658.7 3353.2 L660.7 3352.7 L662.7 3352.3 L664.7 3351.8 L666.7 3351.3 L668.7 3350.8 L670.7 3350.4 L672.8 3349.9 L674.8 3349.4 L676.9 3348.9 L678.9 3348.5 L681 3348 L683.1 3347.5 L685.2 3347 L687.3 3346.6 L689.5 3346.1 L691.6 3345.6 L693.8 3345.1 L695.9 3344.7 L698.1 3344.2 L700.3 3343.7 L702.5 3343.2 L704.7 3342.8 L706.9 3342.3 L709.2 3341.8 L711.4 3341.4 L713.7 3340.9 L715.9 3340.4 L718.2 3339.9 L720.5 3339.5 L722.8 3339 L725.1 3338.5 L727.5 3338 L729.8 3337.6 L732.2 3337.1 L734.6 3336.6 L736.9 3336.1 L739.3 3335.7 L741.8 3335.2 L744.2 3334.7 L746.6 3334.2 L749.1 3333.8 L751.5 3333.3 L754 3332.8 L756.5 3332.3 L759 3331.9 L761.5 3331.4 L764 3330.9 L766.6 3330.4 L769.1 3330 L771.7 3329.5 L774.3 3329 L776.9 3328.6 L779.5 3328.1 L782.1 3327.6 L784.8 3327.1 L787.4 3326.7 L790.1 3326.2 L792.8 3325.7 L795.5 3325.2 L798.2 3324.8 L800.9 3324.3 L803.6 3323.8 L806.4 3323.3 L809.2 3322.9 L811.9 3322.4 L814.7 3321.9 L817.6 3321.4 L820.4 3321 L823.2 3320.5 L826.1 3320 L829 3319.5 L831.8 3319.1 L834.7 3318.6 L837.7 3318.1 L840.6 3317.6 L843.5 3317.2 L846.5 3316.7 L849.5 3316.2 L852.5 3315.8 L855.5 3315.3 L858.5 3314.8 L861.6 3314.3 L864.6 3313.9 L867.7 3313.4 L870.8 3312.9 L873.9 3312.4 L877 3312 L880.2 3311.5 L883.3 3311 L886.5 3310.5 L889.7 3310.1 L892.9 3309.6 L896.1 3309.1 L899.4 3308.6 L902.6 3308.2 L905.9 3307.7 L909.2 3307.2 L912.5 3306.7 L915.8 3306.3 L919.1 3305.8 L922.5 3305.3 L925.9 3304.8 L929.3 3304.4 L932.7 3303.9 L936.1 3303.4 L939.6 3303 L943 3302.5 L946.5 3302 L950 3301.5 L953.5 3301.1 L957.1 3300.6 L960.6 3300.1 L964.2 3299.6 L967.8 3299.2 L971.4 3298.7 L975 3298.2 L978.7 3297.7 L982.3 3297.3 L986 3296.8 L989.7 3296.3 L993.4 3295.8 L997.2 3295.4 L1000.9 3294.9 L1004.7 3294.4 L1008.5 3293.9 L1012.3 3293.5 L1016.2 3293 L1020 3292.5 L1023.9 3292 L1027.8 3291.6 L1031.7 3291.1 L1035.7 3290.6 L1039.6 3290.2 L1043.6 3289.7 L1047.6 3289.2 L1051.6 3288.7 L1055.7 3288.3 L1059.7 3287.8 L1063.8 3287.3 L1067.9 3286.8 L1072 3286.4 L1076.2 3285.9 L1080.3 3285.4 L1084.5 3284.9 L1088.7 3284.5 L1092.9 3284 L1097.2 3283.5 L1101.4 3283 L1105.7 3282.6 L1110 3282.1 L1114.4 3281.6 L1118.7 3281.1 L1123.1 3280.7 L1127.5 3280.2 L1131.9 3279.7 L1136.4 3279.2 L1140.8 3278.8 L1145.3 3278.3 L1149.8 3277.8 L1154.4 3277.4 L1158.9 3276.9 L1163.5 3276.4 L1168.1 3275.9 L1172.7 3275.5 L1177.4 3275 L1182.1 3274.5 L1186.7 3274 L1191.5 3273.6 L1196.2 3273.1 L1201 3272.6 L1205.8 3272.1 L1210.6 3271.7 L1215.4 3271.2 L1220.3 3270.7 L1225.2 3270.2 L1230.1 3269.8 L1235 3269.3 L1240 3268.8 L1244.9 3268.3 L1249.9 3267.9 L1255 3267.4 L1260 3266.9 L1265.1 3266.4 L1270.2 3266 L1275.4 3265.5 L1280.5 3265 L1285.7 3264.6 L1290.9 3264.1 L1296.1 3263.6 L1301.4 3263.1 L1306.7 3262.7 L1312 3262.2 L1317.3 3261.7 L1322.7 3261.2 L1328.1 3260.8 L1333.5 3260.3 L1339 3259.8 L1344.4 3259.3 L1349.9 3258.9 L1355.5 3258.4 L1361 3257.9 L1366.6 3257.4 L1372.2 3257 L1377.8 3256.5 L1383.5 3256 L1389.2 3255.5 L1394.9 3255.1 L1400.6 3254.6 L1406.4 3254.1 L1412.2 3253.6 L1418 3253.2 L1423.9 3252.7 L1429.8 3252.2 L1435.7 3251.8 L1441.6 3251.3 L1447.6 3250.8 L1453.6 3250.3 L1459.7 3249.9 L1465.7 3249.4 L1471.8 3248.9 L1477.9 3248.4 L1484.1 3248 L1490.3 3247.5 L1496.5 3247 L1502.7 3246.5 L1509 3246.1 L1515.3 3245.6 L1521.6 3245.1 L1528 3244.6 L1534.3 3244.2 L1540.8 3243.7 L1547.2 3243.2 L1553.7 3242.7 L1560.2 3242.3 L1566.8 3241.8 L1573.3 3241.3 L1579.9 3240.8 L1586.6 3240.4 L1593.3 3239.9 L1600 3239.4 L1606.7 3239 L1613.5 3238.5 L1620.3 3238 L1627.1 3237.5 L1634 3237.1 L1640.9 3236.6 L1647.8 3236.1 L1654.8 3235.6 L1661.8 3235.2 L1668.8 3234.7 L1675.9 3234.2 L1683 3233.7 L1690.1 3233.3 L1697.3 3232.8 L1704.5 3232.3 L1711.7 3231.8 L1719 3231.4 L1726.3 3230.9 L1733.6 3230.4 L1741 3229.9 L1748.4 3229.5 L1755.9 3229 L1763.3 3228.5 L1770.9 3228 L1778.4 3227.6 L1786 3227.1 L1793.6 3226.6 L1801.3 3226.2 L1809 3225.7 L1816.7 3225.2 L1824.5 3224.7 L1832.3 3224.3 L1840.1 3223.8 L1848 3223.3 L1855.9 3222.8 L1863.9 3222.4 L1871.8 3221.9 L1879.9 3221.4 L1887.9 3220.9 L1896 3220.5 L1904.2 3220 L1912.4 3219.5 L1920.6 3219" stroke-width="12.5" stroke-dasharray="25 25"/>
<path class="c" d="M336.5 4131 C338.6 4112.8 343.3 4071.1 345.3 4052.8 C348.6 4021.8 355.1 3950.7 358.6 3919.7 C363.2 3878.8 376.7 3785.8 381.6 3745 C382.8 3735.1 385.4 3712.6 386.6 3702.7 C388.1 3691 391.6 3664.4 393.2 3652.8 C394.8 3641.2 398.3 3614.5 399.9 3602.9 C401 3594.3 403.6 3574.6 404.8 3566 C405.3 3562.4 406.5 3554 407.1 3550.4 C407.9 3545.6 410 3534.7 411.4 3530 C411.9 3528.2 413.4 3524 414 3522.2 C415.3 3518.4 417.9 3509.7 419.5 3506 C420.7 3503.1 424 3496.8 425.4 3494 C426.9 3491 430.4 3484 432 3481 C433.8 3477.4 438.2 3469.4 440 3465.8 C441.7 3462.5 445.3 3454.8 447 3451.5 C448.6 3448.2 452.3 3440.8 454.1 3437.6 C456.6 3433.1 463.1 3423.2 465.9 3418.8 C470.7 3411.3 481.4 3394 486.4 3386.6 C490.6 3380.4 500.3 3366.2 505.1 3360.5 C510.4 3354.2 523.6 3340.6 530.1 3335.4 C535.6 3331 549.3 3322.8 555.2 3319.1 C563.9 3313.6 583.9 3301.6 592.8 3296.5 C602.6 3290.8 625 3277.4 635.4 3272.7 C640 3270.6 650.7 3266.3 655.4 3264.5 C661.1 3262.4 674.2 3257.9 680 3256.2 C685.9 3254.4 699.6 3250.9 705.6 3249.5 C716.6 3247 742.1 3243.3 753.3 3241.7 C761.1 3240.6 778.8 3238.2 786.6 3237.2 C794.3 3236.2 812 3234.2 819.8 3233.3 C827.6 3232.4 845.3 3230.5 853.1 3229.8 C860.9 3229.1 878.6 3227.9 886.4 3227.4 C894.2 3226.9 911.9 3225.8 919.7 3225.4 C927.4 3225 945.2 3224.2 952.9 3223.9 C960.7 3223.6 978.4 3222.8 986.2 3222.5 C994 3222.2 1011.7 3221.6 1019.5 3221.3 C1027.3 3221 1045 3220.4 1052.8 3220.2 C1060.6 3220 1078.3 3219.6 1086.1 3219.4 C1099.8 3219.1 1131.3 3218.8 1145 3218.7 C1170.2 3218.5 1227.9 3218.6 1253.1 3218.5 C1284.2 3218.4 1355.1 3218.2 1386.2 3218.2 C1423.3 3218.2 1507.9 3218.2 1545 3218.2 C1632.4 3218.2 1832.3 3218.2 1919.7 3218.2" stroke-width="12.5"/>
</svg>
<text class="tk" x="279.5" y="4153" text-anchor="end" fill="#000">0</text>
<text class="tk" x="279.5" y="3794.7" text-anchor="end" fill="#000">10</text>
<text class="tk" x="279.5" y="3436.3" text-anchor="end" fill="#000">20</text>
<text class="tk" x="279.5" y="3078" text-anchor="end" fill="#000">30</text>
<text class="tk" x="335.7" y="4231" text-anchor="middle" fill="#000">0</text>
<text class="tk" x="1213.1" y="4231" text-anchor="middle" fill="#000">5</text>
<text class="tk" x="2090.5" y="4231" text-anchor="middle" fill="#000">10</text>
<text class="ti" x="1059.1" y="4328.6">Slip (mm)</text>
<text class="ti" transform="translate(137.6 3860) rotate(-90)">Bond stress (MPa)</text>
<path class="c" d="M1297.5 3674.5 H1507.5" stroke-width="4.2"/>
<text class="lg" x="1531" y="3695.5">Experimental</text>
<path class="c" d="M1297.5 3763.7 H1507.5" stroke-width="12.5" stroke-dasharray="25 25"/>
<text class="lg" x="1531" y="3784.7">BPE model</text>
<path class="c" d="M1297.5 3853 H1507.5" stroke-width="12.5"/>
<text class="lg" x="1531" y="3874">CMR model</text>
<text class="cap" x="56.7" y="4447.9" textLength="89.1" lengthAdjust="spacingAndGlyphs">(<tspan font-weight="bold">c</tspan>)</text>
<text class="cap" x="170.7" y="4447.9" textLength="478.2" lengthAdjust="spacingAndGlyphs">B12-RC45-L5</text>
</g>
</svg></body></html>
